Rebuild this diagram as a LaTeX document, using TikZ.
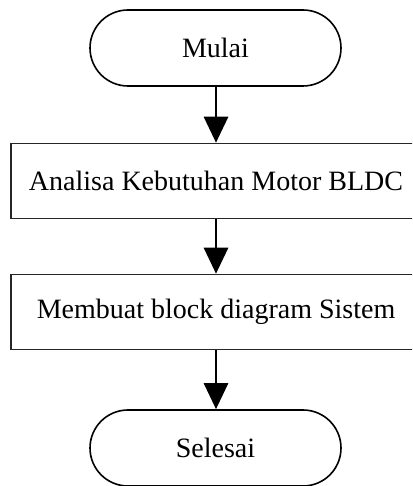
\documentclass[tikz,border=0pt]{standalone}
\usepackage{fontspec}
\setmainfont{Liberation Serif}
\usetikzlibrary{shapes.misc,arrows.meta}
\begin{document}
\begin{tikzpicture}[x=1pt,y=1pt,
  terminal/.style={draw=black,line width=1.6pt,rounded rectangle,
    minimum width=251pt,minimum height=76pt,inner sep=0pt,
    font=\fontsize{28}{33}\selectfont},
  process/.style={draw=black!85,line width=1.5pt,rectangle,
    minimum width=410pt,minimum height=75pt,inner sep=0pt,
    font=\fontsize{28}{33}\selectfont},
  flow/.style={line width=2.8pt,-{Triangle[width=24pt,length=26pt]}}]
  \useasboundingbox (0,0) rectangle (412,486);
  \clip (0,0) rectangle (412,486);
  \node[terminal] (start) at (215.5,438) {Mulai};
  \node[process] (analisa) at (216,305) {Analisa Kebutuhan Motor BLDC};
  \node[process] (blok) at (216,174) {Membuat block diagram Sistem};
  \node[terminal] (end) at (215.5,38) {Selesai};
  \draw[flow] (start.south -| analisa.north) -- (analisa.north);
  \draw[flow] (analisa.south) -- (blok.north);
  \draw[flow] (blok.south) -- (end.north -| blok.south);
\end{tikzpicture}
\end{document}
